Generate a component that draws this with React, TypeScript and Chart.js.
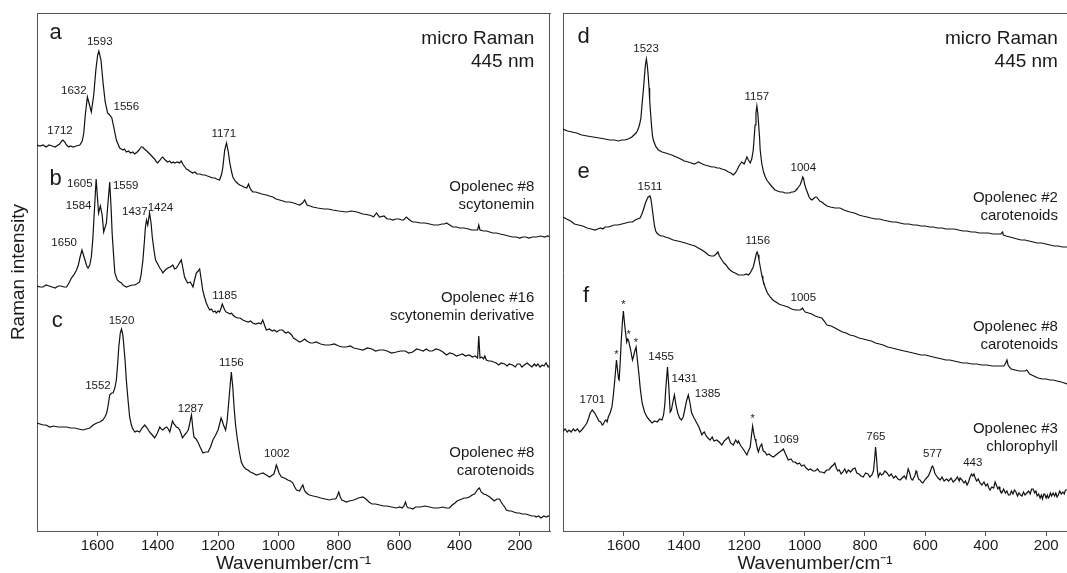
import React, { useEffect, useRef } from 'react';
import { Chart, registerables } from 'chart.js';

Chart.register(...registerables);

const FONT = '"Liberation Sans", Arial, Helvetica, sans-serif';
const INK = '#111111';
const FRAME = '#555555';

// Wavenumber tick labels (cm-1)
const xTicks = [1600, 1400, 1200, 1000, 800, 600, 400, 200];

// Spectra: [wavenumber cm-1, relative Raman intensity (offset-stacked)]
const specA: [number, number][] = [
  [1800, 386], [1790, 385], [1780, 386], [1770, 384], [1760, 386], [1750, 385], [1740, 384], [1730, 386], [1725, 387], [1718, 390], [1714, 391], [1708, 389], [1702, 386],
  [1695, 384], [1690, 385], [1680, 384], [1670, 385], [1658, 386], [1650, 390], [1645, 398], [1640, 416], [1633, 434], [1626, 426], [1620, 419],
  [1612, 436], [1605, 461], [1599, 476], [1595, 480], [1588, 471], [1581, 448], [1574, 429], [1566, 418], [1559, 416], [1552, 413], [1545, 403],
  [1537, 391], [1526, 383], [1515, 381], [1510, 382], [1504, 379], [1497, 380], [1490, 378], [1483, 379], [1476, 377], [1468, 379], [1462, 381], [1455, 384], [1450, 384],
  [1444, 382], [1440, 381], [1433, 379], [1426, 377], [1420, 375], [1414, 373], [1410, 372], [1404, 369], [1400, 368], [1392, 371], [1387, 373], [1383, 374], [1378, 372], [1375, 371],
  [1367, 369], [1360, 370], [1355, 368], [1348, 369], [1344, 368], [1335, 369], [1328, 368], [1322, 370], [1315, 366], [1310, 364], [1305, 362], [1298, 361], [1295, 360],
  [1284, 358], [1277, 359], [1270, 357], [1260, 357], [1251, 356], [1243, 356], [1235, 355], [1226, 354], [1218, 353], [1210, 353], [1205, 352], [1195, 351], [1188, 357],
  [1184, 364], [1178, 381], [1172, 388], [1166, 379], [1161, 368], [1155, 359], [1151, 354], [1145, 351], [1140, 349], [1133, 347], [1128, 346], [1120, 345], [1115, 344],
  [1105, 343], [1099, 347], [1093, 342], [1085, 339], [1075, 339], [1065, 338], [1055, 337], [1040, 336], [1030, 335], [1018, 334], [1008, 332], [996, 331], [985, 330],
  [975, 329], [962, 329], [950, 328], [940, 327], [929, 326], [920, 328], [913, 331], [905, 326], [895, 325], [886, 324], [870, 323], [850, 322], [835, 322],
  [820, 321], [800, 320], [775, 319], [758, 320], [740, 319], [720, 317], [700, 316], [690, 315], [685, 314], [675, 318], [665, 314], [650, 315], [640, 312], [630, 312],
  [621, 311], [610, 312], [600, 312], [592, 311], [585, 311], [576, 314], [565, 311], [555, 309], [545, 309], [530, 308], [515, 308], [499, 307], [485, 306], [470, 306],
  [458, 307], [450, 307], [443, 308], [432, 306], [422, 304], [410, 304], [400, 303], [385, 303], [370, 302], [360, 301], [350, 301], [340, 301], [336, 306], [332, 301],
  [320, 300], [310, 300], [300, 299], [290, 298], [278, 298], [265, 297], [250, 296], [238, 295], [224, 294], [212, 294], [200, 293], [190, 294], [180, 294],
  [170, 293], [158, 294], [145, 294], [130, 295], [118, 294], [108, 295], [100, 294],
];

const specB: [number, number][] = [
  [1800, 245], [1790, 244], [1780, 244], [1770, 246], [1760, 245], [1750, 244], [1740, 243], [1730, 245], [1720, 245], [1710, 244], [1702, 244],
  [1694, 248], [1686, 253], [1678, 256], [1669, 261], [1663, 266], [1658, 273], [1651, 281], [1643, 273], [1635, 265], [1631, 263], [1625, 266],
  [1620, 274], [1615, 292], [1611, 314], [1604, 352], [1596, 318], [1590, 325], [1584, 316], [1579, 299], [1570, 308], [1564, 331], [1559, 349],
  [1554, 320], [1551, 298], [1546, 275], [1542, 258], [1534, 251], [1526, 249], [1520, 248], [1515, 246], [1510, 245], [1504, 244], [1495, 245], [1483, 246],
  [1476, 246], [1470, 247], [1460, 249], [1455, 256], [1449, 271], [1444, 290], [1441, 303], [1437, 311], [1433, 306], [1427, 318], [1422, 308], [1418, 294],
  [1412, 280], [1407, 271], [1400, 267], [1393, 263], [1388, 261], [1383, 258], [1375, 261], [1367, 263], [1358, 264], [1350, 266], [1344, 262],
  [1338, 263], [1330, 267], [1322, 271], [1316, 262], [1311, 254], [1301, 248], [1292, 249], [1283, 244], [1278, 251], [1272, 258], [1266, 260],
  [1261, 262], [1256, 252], [1251, 241], [1245, 234], [1239, 228], [1233, 224], [1228, 221], [1222, 222], [1216, 219], [1210, 220], [1206, 218], [1200, 220], [1195, 219],
  [1190, 223], [1186, 227], [1182, 224], [1178, 221], [1173, 219], [1166, 218], [1160, 217], [1155, 218], [1151, 216], [1143, 214], [1135, 213], [1127, 213],
  [1118, 211], [1110, 210], [1100, 209], [1092, 210], [1085, 208], [1075, 207], [1065, 208], [1058, 207], [1052, 211], [1045, 205], [1040, 201], [1030, 202],
  [1020, 200], [1013, 201], [1006, 199], [996, 201], [986, 201], [980, 199], [975, 198], [968, 199], [963, 198], [956, 196], [950, 193], [945, 192], [940, 191],
  [935, 190], [930, 189], [922, 190], [913, 192], [906, 190], [900, 189], [893, 188], [886, 188], [875, 189], [860, 187], [845, 186], [830, 186], [815, 187],
  [800, 185], [788, 184], [775, 184], [762, 185], [750, 183], [735, 182], [720, 181], [705, 183], [690, 182], [678, 180], [665, 181], [652, 181], [640, 180],
  [625, 178], [609, 179], [595, 180], [580, 180], [568, 178], [555, 179], [542, 182], [530, 181], [520, 180], [510, 182], [500, 180], [490, 180], [478, 182],
  [466, 181], [455, 179], [443, 176], [432, 178], [420, 177], [410, 175], [400, 176], [390, 177], [380, 175], [368, 176], [357, 174], [348, 175], [340, 173],
  [336, 195], [332, 173], [326, 174], [320, 172], [316, 175], [311, 171], [303, 170], [295, 170], [287, 169], [278, 168], [270, 166], [262, 168], [250, 167],
  [242, 165], [235, 167], [224, 166], [215, 164], [208, 167], [200, 167], [193, 164], [185, 166], [176, 168], [168, 166], [160, 164], [152, 167], [146, 165],
  [140, 167], [133, 164], [126, 166], [120, 165], [113, 168], [106, 164], [100, 166],
];

const specC: [number, number][] = [
  [1800, 108], [1790, 107], [1780, 106], [1770, 106], [1758, 104], [1745, 105], [1730, 104], [1715, 104], [1701, 104], [1690, 103], [1675, 103], [1662, 102],
  [1648, 101], [1637, 102], [1625, 103], [1614, 106], [1602, 108], [1592, 109], [1582, 111], [1575, 114], [1569, 118], [1564, 126], [1559, 136], [1553, 138],
  [1548, 138], [1542, 143], [1537, 151], [1533, 166], [1529, 184], [1524, 198], [1520, 202], [1516, 197], [1513, 188], [1508, 170], [1504, 151], [1498, 130],
  [1493, 114], [1488, 107], [1484, 103], [1476, 99], [1468, 100], [1460, 99], [1452, 103], [1443, 106], [1435, 103], [1427, 99], [1418, 96], [1410, 93],
  [1401, 98], [1393, 104], [1388, 102], [1383, 101], [1376, 103], [1370, 104], [1365, 102], [1360, 99], [1355, 105], [1351, 110], [1346, 107], [1338, 104],
  [1332, 103], [1327, 101], [1322, 97], [1318, 93], [1311, 96], [1305, 98], [1299, 101], [1295, 106], [1291, 112], [1288, 116], [1284, 104], [1280, 94],
  [1273, 92], [1267, 89], [1258, 83], [1250, 78], [1242, 79], [1233, 79], [1225, 84], [1217, 91], [1208, 96], [1200, 101], [1194, 108], [1190, 113],
  [1186, 110], [1182, 106], [1175, 101], [1170, 110], [1166, 124], [1161, 142], [1156, 159], [1151, 143], [1147, 124], [1142, 106], [1137, 94], [1130, 80],
  [1123, 69], [1115, 64], [1108, 62], [1101, 61], [1093, 59], [1085, 58], [1073, 56], [1062, 57], [1051, 58], [1040, 56], [1029, 54], [1020, 56], [1015, 57],
  [1011, 61], [1007, 66], [1003, 63], [998, 58], [990, 54], [980, 53], [969, 51], [960, 50], [952, 48], [946, 44], [940, 41], [930, 40], [925, 43], [919, 46],
  [914, 41], [910, 39], [903, 37], [897, 36], [885, 35], [870, 34], [860, 33], [845, 32], [830, 31], [820, 32], [810, 32], [805, 35], [800, 39], [795, 34],
  [790, 31], [782, 30], [775, 29], [765, 30], [750, 31], [735, 33], [720, 34], [710, 32], [700, 29], [690, 27], [678, 27], [665, 26], [652, 25], [640, 25],
  [625, 24], [609, 23], [598, 24], [590, 23], [584, 25], [579, 29], [575, 25], [570, 23], [562, 23], [555, 22], [545, 24], [530, 24], [515, 25], [499, 24],
  [485, 23], [470, 23], [455, 24], [445, 23], [433, 23], [424, 26], [415, 28], [408, 30], [400, 31], [392, 32], [385, 33], [376, 33], [367, 34], [358, 36],
  [350, 37], [343, 40], [338, 42], [334, 43], [328, 39], [320, 37], [310, 36], [300, 34], [292, 32], [285, 30], [276, 32], [267, 32], [262, 29], [255, 26],
  [250, 24], [245, 21], [236, 20], [228, 20], [220, 19], [210, 18], [201, 18], [192, 17], [180, 17], [170, 16], [160, 15], [150, 15], [146, 14], [138, 15],
  [130, 13], [120, 15], [113, 14], [106, 15], [100, 14],
];

const specD: [number, number][] = [
  [1800, 402], [1785, 400], [1770, 399], [1755, 398], [1738, 396], [1720, 395], [1700, 394], [1680, 393], [1661, 392], [1645, 391], [1630, 391], [1617, 390],
  [1605, 391], [1595, 391], [1585, 392], [1578, 393], [1572, 394], [1565, 396], [1558, 398], [1554, 400], [1550, 403], [1546, 407], [1542, 413], [1537, 431],
  [1533, 444], [1530, 456], [1527, 466], [1524, 472], [1521, 466], [1518, 456], [1515, 443], [1513, 431], [1510, 418], [1507, 406], [1504, 396], [1501, 391],
  [1496, 387], [1492, 384], [1484, 381], [1472, 379], [1460, 378], [1450, 377], [1440, 376], [1425, 374], [1410, 372], [1398, 370], [1385, 369], [1375, 368],
  [1365, 367], [1358, 368], [1352, 369], [1345, 368], [1338, 367], [1330, 366], [1318, 365], [1307, 364], [1298, 364], [1290, 363], [1282, 363], [1274, 362],
  [1263, 361], [1252, 359], [1244, 358], [1236, 356], [1230, 358], [1225, 360], [1219, 364], [1213, 367], [1208, 369], [1204, 368], [1200, 367], [1195, 371],
  [1191, 374], [1186, 371], [1180, 368], [1175, 372], [1170, 381], [1167, 393], [1164, 406], [1161, 418], [1158, 425], [1155, 418], [1152, 406], [1149, 393],
  [1147, 381], [1142, 368], [1136, 359], [1130, 354], [1125, 351], [1118, 348], [1110, 345], [1104, 343], [1098, 341], [1090, 340], [1080, 339], [1072, 339],
  [1065, 338], [1058, 338], [1050, 338], [1043, 339], [1037, 339], [1031, 340], [1025, 342], [1020, 344], [1015, 346], [1010, 350], [1006, 354], [1003, 352],
  [1000, 347], [996, 343], [990, 338], [985, 334], [980, 332], [976, 331], [972, 332], [968, 333], [964, 334], [960, 334], [955, 332], [950, 330], [943, 329],
  [935, 327], [926, 325], [915, 324], [899, 323], [890, 323], [883, 323], [870, 321], [860, 320], [850, 319], [835, 318], [820, 316], [808, 315], [793, 314],
  [780, 313], [765, 312], [752, 312], [740, 311], [725, 310], [710, 309], [697, 309], [684, 308], [670, 307], [655, 307], [640, 306], [628, 306], [615, 305],
  [600, 305], [587, 304], [574, 304], [560, 303], [545, 303], [532, 302], [519, 302], [505, 302], [490, 301], [476, 300], [462, 300], [448, 299], [435, 299],
  [422, 298], [408, 298], [392, 298], [375, 297], [362, 297], [350, 297], [344, 299], [342, 296], [333, 295], [320, 294], [308, 293], [296, 292], [283, 291],
  [270, 291], [257, 290], [243, 289], [229, 288], [215, 288], [201, 287], [187, 286], [174, 285], [160, 285], [146, 284], [131, 284], [115, 283], [100, 283],
];

const specE: [number, number][] = [
  [1800, 314], [1788, 312], [1775, 310], [1762, 307], [1749, 306], [1735, 305], [1720, 303], [1707, 302], [1694, 301], [1685, 302], [1675, 303], [1668, 302],
  [1661, 304], [1650, 304], [1640, 305], [1630, 306], [1618, 306], [1605, 307], [1592, 308], [1580, 309], [1570, 309], [1561, 311], [1553, 312], [1545, 313],
  [1540, 316], [1534, 321], [1528, 327], [1523, 331], [1518, 334], [1512, 335], [1509, 332], [1506, 326], [1501, 314], [1497, 305], [1493, 300], [1489, 298],
  [1482, 296], [1475, 295], [1468, 295], [1462, 294], [1450, 293], [1435, 291], [1420, 290], [1407, 289], [1395, 288], [1385, 287], [1374, 286], [1363, 285],
  [1352, 283], [1340, 281], [1330, 279], [1319, 276], [1310, 275], [1300, 275], [1293, 277], [1287, 279], [1282, 275], [1274, 271], [1267, 268], [1260, 266],
  [1253, 263], [1247, 261], [1238, 259], [1230, 258], [1224, 257], [1219, 256], [1210, 256], [1200, 256], [1193, 257], [1186, 256], [1180, 258], [1175, 261],
  [1170, 264], [1166, 269], [1163, 273], [1160, 277], [1157, 279], [1154, 276], [1151, 271], [1148, 266], [1145, 261], [1141, 255], [1138, 251], [1131, 244],
  [1123, 238], [1114, 234], [1105, 231], [1095, 229], [1085, 227], [1076, 226], [1065, 225], [1055, 224], [1043, 222], [1031, 221], [1023, 221], [1015, 221],
  [1010, 222], [1007, 223], [1003, 221], [998, 219], [987, 218], [976, 217], [965, 215], [955, 214], [943, 213], [935, 210], [926, 206], [912, 205], [899, 203],
  [887, 201], [875, 199], [862, 198], [850, 196], [835, 195], [820, 193], [806, 192], [793, 191], [779, 190], [765, 188], [752, 187], [740, 186], [725, 184],
  [710, 183], [697, 182], [684, 181], [670, 180], [655, 179], [641, 178], [628, 177], [614, 176], [600, 176], [587, 175], [574, 174], [560, 173], [545, 172],
  [532, 171], [519, 171], [505, 170], [490, 169], [476, 168], [462, 168], [446, 167], [430, 167], [413, 166], [396, 166], [378, 165], [360, 165], [348, 165],
  [340, 165], [334, 168], [330, 171], [326, 166], [322, 164], [316, 162], [303, 161], [290, 160], [280, 160], [270, 160], [264, 161], [255, 157], [241, 155],
  [227, 153], [213, 152], [200, 152], [188, 151], [177, 151], [164, 150], [150, 149], [140, 148], [131, 147], [115, 146], [100, 145],
];

const specF: [number, number][] = [
  [1800, 100], [1793, 102], [1786, 99], [1780, 101], [1773, 99], [1766, 102], [1760, 100], [1752, 102], [1745, 99], [1738, 101], [1730, 104], [1721, 108],
  [1715, 113], [1710, 118], [1703, 121], [1695, 118], [1688, 114], [1681, 110], [1675, 109], [1670, 106], [1666, 107], [1662, 110], [1658, 111], [1654, 109],
  [1650, 114], [1644, 118], [1638, 124], [1634, 134], [1630, 146], [1626, 160], [1623, 171], [1619, 160], [1616, 152], [1614, 151], [1610, 172], [1607, 191],
  [1603, 210], [1600, 220], [1597, 210], [1594, 201], [1589, 189], [1586, 192], [1583, 191], [1579, 185], [1576, 181], [1570, 171], [1566, 175], [1563, 179],
  [1558, 184], [1554, 172], [1549, 158], [1544, 142], [1538, 128], [1530, 119], [1522, 114], [1514, 111], [1505, 108], [1497, 110], [1488, 109], [1480, 112],
  [1472, 111], [1467, 116], [1463, 126], [1459, 145], [1454, 164], [1450, 146], [1445, 119], [1441, 121], [1438, 126], [1434, 132], [1431, 136], [1426, 126],
  [1420, 118], [1414, 113], [1408, 111], [1402, 114], [1397, 121], [1391, 130], [1385, 136], [1380, 129], [1374, 118], [1366, 113], [1357, 108], [1350, 104],
  [1345, 100], [1340, 96], [1336, 98], [1332, 99], [1326, 95], [1320, 93], [1313, 91], [1306, 94], [1300, 90], [1291, 91], [1283, 89], [1274, 86], [1266, 90],
  [1259, 92], [1252, 94], [1245, 88], [1236, 86], [1228, 91], [1222, 88], [1219, 90], [1213, 86], [1206, 83], [1199, 80], [1191, 76], [1186, 80], [1180, 84],
  [1176, 95], [1172, 105], [1168, 97], [1164, 92], [1161, 89], [1157, 83], [1153, 79], [1148, 84], [1142, 87], [1137, 80], [1131, 79], [1125, 76], [1118, 77],
  [1110, 75], [1103, 74], [1095, 76], [1087, 78], [1078, 80], [1070, 82], [1063, 77], [1054, 71], [1045, 72], [1038, 69], [1031, 69], [1024, 67], [1017, 68],
  [1010, 65], [1002, 66], [995, 63], [987, 61], [980, 62], [972, 60], [965, 60], [957, 62], [950, 59], [943, 59], [935, 58], [927, 61], [920, 61], [912, 64],
  [905, 66], [900, 68], [895, 63], [890, 60], [885, 61], [879, 57], [873, 59], [867, 62], [861, 58], [855, 61], [848, 59], [840, 62], [833, 63], [827, 58],
  [820, 57], [813, 55], [806, 54], [798, 58], [790, 57], [784, 54], [777, 56], [772, 60], [768, 72], [765, 84], [762, 74], [759, 61], [756, 54], [750, 58],
  [745, 56], [740, 57], [734, 60], [727, 58], [720, 55], [713, 57], [705, 53], [698, 55], [691, 52], [684, 51], [677, 53], [670, 55], [664, 52], [657, 62],
  [652, 58], [648, 53], [644, 51], [641, 52], [635, 55], [631, 60], [628, 58], [623, 52], [618, 51], [613, 49], [608, 48], [602, 51], [596, 53], [590, 55],
  [583, 60], [579, 64], [576, 65], [572, 62], [569, 58], [565, 56], [558, 53], [551, 51], [545, 54], [538, 50], [530, 52], [523, 50], [515, 53], [508, 49],
  [501, 51], [494, 54], [488, 50], [485, 53], [479, 51], [472, 48], [467, 50], [462, 46], [457, 49], [452, 54], [447, 57], [443, 55], [439, 57], [435, 53],
  [430, 50], [425, 52], [419, 48], [413, 46], [406, 49], [400, 45], [394, 47], [390, 43], [386, 41], [380, 44], [374, 43], [369, 49], [365, 46], [360, 42],
  [356, 44], [353, 41], [347, 38], [341, 42], [335, 38], [330, 40], [325, 36], [320, 36], [315, 40], [310, 37], [305, 41], [300, 39], [295, 35], [290, 38],
  [285, 36], [280, 35], [275, 39], [270, 36], [264, 38], [258, 40], [253, 37], [248, 42], [243, 42], [238, 38], [234, 40], [230, 35], [225, 37], [220, 33],
  [216, 36], [212, 32], [208, 37], [205, 37], [200, 33], [196, 36], [193, 33], [190, 34], [186, 38], [182, 35], [177, 38], [172, 35], [168, 38], [164, 34],
  [160, 36], [155, 40], [150, 37], [145, 39], [140, 37], [136, 41], [131, 41], [120, 39], [110, 41], [100, 40],
];

type Note = { x: number; y: number; text: string; size: number; align?: CanvasTextAlign };

// Left panel annotations (x in cm-1, y in intensity units)
const leftNotes: Note[] = [
  { x: 1738, y: 498, text: 'a', size: 22 },
  { x: 1738, y: 352, text: 'b', size: 22 },
  { x: 1733, y: 210, text: 'c', size: 22 },
  { x: 1724, y: 400, text: '1712', size: 11.5 },
  { x: 1678, y: 440, text: '1632', size: 11.5 },
  { x: 1592, y: 489, text: '1593', size: 11.5 },
  { x: 1504, y: 424, text: '1556', size: 11.5 },
  { x: 1181, y: 397, text: '1171', size: 11.5 },
  { x: 1658, y: 347, text: '1605', size: 11.5 },
  { x: 1662, y: 325, text: '1584', size: 11.5 },
  { x: 1506, y: 345, text: '1559', size: 11.5 },
  { x: 1476, y: 319, text: '1437', size: 11.5 },
  { x: 1391, y: 323, text: '1424', size: 11.5 },
  { x: 1710, y: 288, text: '1650', size: 11.5 },
  { x: 1178, y: 235, text: '1185', size: 11.5 },
  { x: 1520, y: 210, text: '1520', size: 11.5 },
  { x: 1598, y: 145, text: '1552', size: 11.5 },
  { x: 1291, y: 122, text: '1287', size: 11.5 },
  { x: 1156, y: 168, text: '1156', size: 11.5 },
  { x: 1005, y: 77, text: '1002', size: 11.5 },
  { x: 152, y: 492, text: 'micro Raman', size: 19, align: 'right' },
  { x: 152, y: 469, text: '445 nm', size: 19, align: 'right' },
  { x: 152, y: 344, text: 'Opolenec #8', size: 15, align: 'right' },
  { x: 152, y: 326, text: 'scytonemin', size: 15, align: 'right' },
  { x: 152, y: 233, text: 'Opolenec #16', size: 15, align: 'right' },
  { x: 152, y: 215, text: 'scytonemin derivative', size: 15, align: 'right' },
  { x: 152, y: 78, text: 'Opolenec #8', size: 15, align: 'right' },
  { x: 152, y: 60, text: 'carotenoids', size: 15, align: 'right' },
];

const rightNotes: Note[] = [
  { x: 1732, y: 494, text: 'd', size: 22 },
  { x: 1732, y: 359, text: 'e', size: 22 },
  { x: 1724, y: 235, text: 'f', size: 22 },
  { x: 1525, y: 482, text: '1523', size: 11.5 },
  { x: 1158, y: 434, text: '1157', size: 11.5 },
  { x: 1004, y: 363, text: '1004', size: 11.5 },
  { x: 1512, y: 344, text: '1511', size: 11.5 },
  { x: 1155, y: 290, text: '1156', size: 11.5 },
  { x: 1004, y: 233, text: '1005', size: 11.5 },
  { x: 1475, y: 174, text: '1455', size: 11.5 },
  { x: 1398, y: 152, text: '1431', size: 11.5 },
  { x: 1321, y: 137, text: '1385', size: 11.5 },
  { x: 1703, y: 131, text: '1701', size: 11.5 },
  { x: 1061, y: 91, text: '1069', size: 11.5 },
  { x: 764, y: 94, text: '765', size: 11.5 },
  { x: 576, y: 77, text: '577', size: 11.5 },
  { x: 443, y: 68, text: '443', size: 11.5 },
  { x: 1623, y: 176, text: '*', size: 11 },
  { x: 1600, y: 226, text: '*', size: 11 },
  { x: 1583, y: 196, text: '*', size: 11 },
  { x: 1559, y: 188, text: '*', size: 11 },
  { x: 1172, y: 112, text: '*', size: 11 },
  { x: 161, y: 492, text: 'micro Raman', size: 19, align: 'right' },
  { x: 161, y: 469, text: '445 nm', size: 19, align: 'right' },
  { x: 161, y: 333, text: 'Opolenec #2', size: 15, align: 'right' },
  { x: 161, y: 315, text: 'carotenoids', size: 15, align: 'right' },
  { x: 161, y: 204, text: 'Opolenec #8', size: 15, align: 'right' },
  { x: 161, y: 186, text: 'carotenoids', size: 15, align: 'right' },
  { x: 161, y: 102, text: 'Opolenec #3', size: 15, align: 'right' },
  { x: 161, y: 84, text: 'chlorophyll', size: 15, align: 'right' },
];

function notesPlugin(notes: Note[], drawRight: boolean) {
  return {
    id: 'frameAndNotes',
    afterDatasetsDraw(chart: any) {
      const { ctx, chartArea: a, scales } = chart;
      ctx.save();
      ctx.strokeStyle = FRAME;
      ctx.lineWidth = 1;
      ctx.beginPath();
      const top = Math.round(a.top) + 0.5;
      ctx.moveTo(a.left, top);
      ctx.lineTo(a.right + 1, top);
      if (drawRight) {
        const r = Math.round(a.right) - 0.5;
        ctx.moveTo(r, a.top);
        ctx.lineTo(r, a.bottom);
      }
      ctx.stroke();
      ctx.fillStyle = '#1a1a1a';
      ctx.textBaseline = 'middle';
      for (const n of notes) {
        ctx.font = `${n.size}px ${FONT}`;
        ctx.textAlign = n.align || 'center';
        ctx.fillText(n.text, scales.x.getPixelForValue(n.x), scales.y.getPixelForValue(n.y));
      }
      ctx.restore();
    },
  };
}

function makeConfig(series: [number, number][][], notes: Note[], left: boolean) {
  return {
    type: 'line' as const,
    data: {
      datasets: series.map((s) => ({
        data: s.map(([x, y]) => ({ x, y })),
        borderColor: INK,
        borderWidth: 1.2,
        pointRadius: 0,
        tension: 0,
        fill: false,
      })),
    },
    options: {
      animation: false as const,
      responsive: false,
      events: [],
      layout: { padding: { top: 13, right: left ? 6 : 0, bottom: 0, left: 0 } },
      plugins: { legend: { display: false }, tooltip: { enabled: false } },
      scales: {
        x: {
          type: 'linear' as const,
          reverse: true,
          min: left ? 100 : 131,
          max: 1800,
          afterBuildTicks: (scale: any) => {
            scale.ticks = xTicks.map((v) => ({ value: v }));
          },
          afterFit: (scale: any) => {
            scale.height = 42;
          },
          grid: { display: true, drawOnChartArea: false, drawTicks: true, tickLength: 5, color: FRAME },
          border: { display: true, color: FRAME, width: 1 },
          ticks: {
            color: '#1a1a1a',
            font: { family: FONT, size: 15, lineHeight: 1.2 },
            padding: 1,
            maxRotation: 0,
            autoSkip: false,
            callback: (v: any) => String(v),
          },
          title: {
            display: true,
            text: 'Wavenumber/cm⁻¹',
            color: '#1a1a1a',
            font: { family: FONT, size: 19, lineHeight: 1 },
            padding: { top: 0, bottom: 0 },
          },
        },
        y: {
          type: 'linear' as const,
          min: 0,
          max: 518,
          afterFit: (scale: any) => {
            scale.width = left ? 37 : 10;
          },
          grid: { display: false },
          border: { display: true, color: FRAME, width: 1 },
          ticks: { display: false },
          title: {
            display: left,
            text: 'Raman intensity',
            color: '#1a1a1a',
            font: { family: FONT, size: 19, lineHeight: 1 },
            padding: { top: 9.5, bottom: 0 },
          },
        },
      },
    },
    plugins: [notesPlugin(notes, left)],
  };
}

function Panel(props: { series: [number, number][][]; notes: Note[]; left: boolean; x: number; w: number }) {
  const ref = useRef<HTMLCanvasElement | null>(null);
  useEffect(() => {
    if (!ref.current) return;
    const chart = new Chart(ref.current, makeConfig(props.series, props.notes, props.left) as any);
    return () => chart.destroy();
  }, []);
  return (
    <canvas
      ref={ref}
      width={props.w}
      height={573}
      style={{ position: 'absolute', left: props.x, top: 0, width: props.w, height: 573, display: 'block' }}
    />
  );
}

export default function App() {
  return (
    <div style={{ position: 'fixed', left: 0, top: 0, width: 1067, height: 573, background: '#ffffff', overflow: 'hidden' }}>
      <Panel series={[specA, specB, specC]} notes={leftNotes} left={true} x={0} w={556} />
      <Panel series={[specD, specE, specF]} notes={rightNotes} left={false} x={553} w={514} />
    </div>
  );
}
